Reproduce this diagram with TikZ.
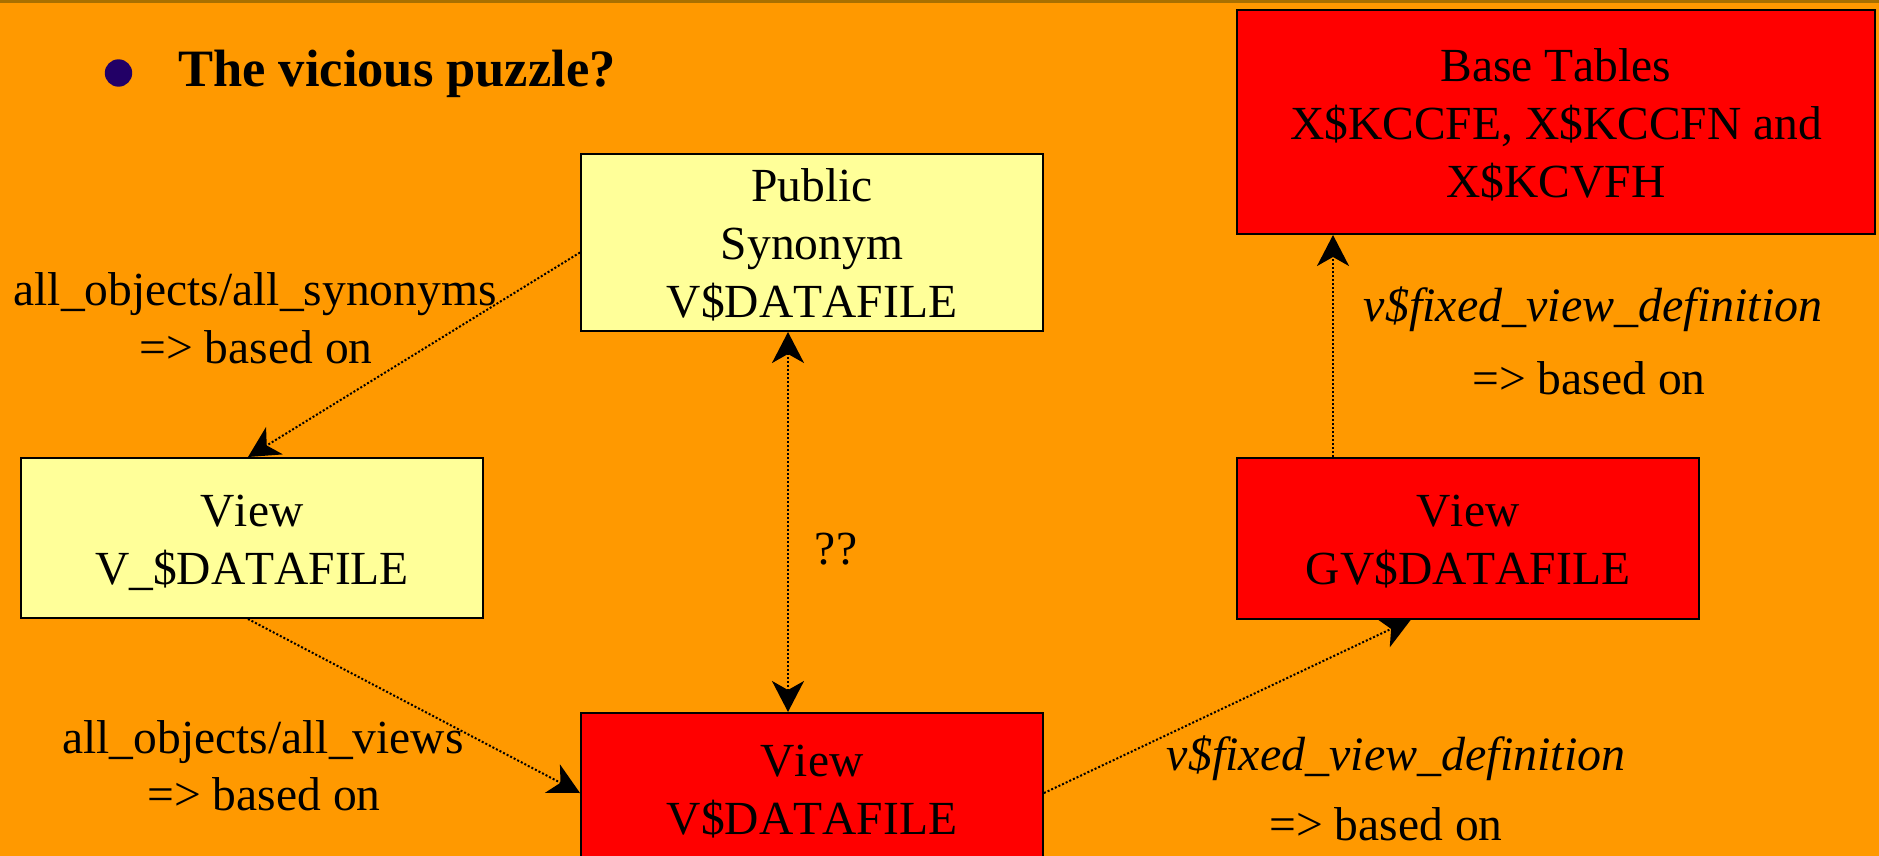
\documentclass[tikz,border=0pt]{standalone}
\usepackage{fontspec}
\setmainfont{Liberation Serif}[Kerning=Off]
\usetikzlibrary{arrows.meta}
\definecolor{bgorange}{HTML}{FF9900}
\definecolor{topline}{HTML}{A87000}
\definecolor{boxyellow}{HTML}{FFFF99}
\definecolor{boxred}{HTML}{FF0000}
\definecolor{bulletblue}{HTML}{220066}
\newcommand\bxtop{\rule{0pt}{46pt}}
\newcommand\bxbot{\rule[-12pt]{0pt}{12pt}}
\tikzset{mytip/.tip={Stealth[length=31pt,width=32pt,inset=9pt]}}
\begin{document}
\begin{tikzpicture}[x=1pt,y=-1pt,
  box/.style={draw=black,line width=2pt,align=center,inner sep=0pt,font=\fontsize{47.5}{58}\selectfont},
  ybox/.style={box,fill=boxyellow},
  rbox/.style={box,fill=boxred},
  lbl/.style={anchor=base,inner sep=0pt,font=\fontsize{47.5}{58}\selectfont},
  ilbl/.style={lbl,font=\fontsize{48}{58}\selectfont\itshape},
  link/.style={line width=2pt,dash pattern=on 2pt off 2pt,-mytip},
  dlink/.style={line width=2pt,dash pattern=on 2pt off 2pt,mytip-mytip},
]
\useasboundingbox (0,0) rectangle (1879,856);
\clip (0,0) rectangle (1879,856);
\fill[bgorange] (0,0) rectangle (1879,856);
\fill[topline] (0,0) rectangle (1879,3);

% title
\fill[bulletblue] (118.5,73) circle [radius=13.7pt];
\node[anchor=base west,inner sep=0pt,font=\fontsize{52.5}{60}\selectfont\bfseries] (title) at (178,87) {The vicious puzzle?};

% boxes
\node[ybox,minimum width=462pt,minimum height=177pt] (syn) at (812,242.5) {\bxtop Public\\Synonym\\V\$DATAFILE\bxbot};
\node[ybox,minimum width=462pt,minimum height=160pt] (vu) at (252,538) {\bxtop View\\V\_\$DATAFILE\bxbot};
\node[rbox,minimum width=462pt,minimum height=150pt] (vd) at (812,788) {\bxtop View\\V\$DATAFILE\bxbot};
\node[rbox,minimum width=462pt,minimum height=161pt] (gv) at (1468,538) {\bxtop View\\GV\$DATAFILE\bxbot};
\node[rbox,minimum width=638pt,minimum height=224pt] (base) at (1556,122) {\bxtop Base Tables\\X\$KCCFE, X\$KCCFN and\\X\$KCVFH\bxbot};

% labels
\node[lbl] (l1a) at (255,305) {all\_objects/all\_synonyms};
\node[lbl] (l1b) at (256,363) {=> based on};
\node[lbl] (l2a) at (263,753) {all\_objects/all\_views};
\node[lbl] (l2b) at (264,810) {=> based on};
\node[lbl] (q) at (836,564) {??};
\node[ilbl] (l3a) at (1593,321) {v\$fixed\_view\_definition};
\node[lbl] (l3b) at (1589,394) {=> based on};
\node[ilbl] (l4a) at (1396,770) {v\$fixed\_view\_definition};
\node[lbl] (l4b) at (1386,840) {=> based on};

% connectors
\draw[link] ([yshift=-10pt]syn.west) -- ([xshift=-4pt]vu.north);
\draw[link] ([xshift=-4pt]vu.south) -- ([yshift=-5pt]vd.west);
\draw[dlink] ([xshift=-24pt]syn.south) -- ([xshift=-24pt]vd.north);
\draw[link] ([yshift=-5pt]vd.east) -- ([xshift=-57pt]gv.south);
\draw[link] ([xshift=-135pt]gv.north) -- ([xshift=-223pt]base.south);
\end{tikzpicture}
\end{document}
